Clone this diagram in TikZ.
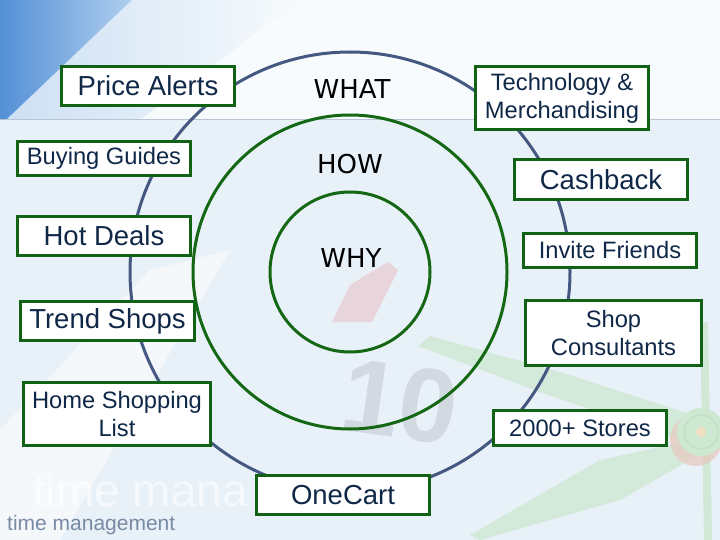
\documentclass[tikz,border=0pt]{standalone}
\usepackage{fontspec}
\setmainfont{Liberation Sans}
\newfontfamily\whatfont{DejaVu Sans}
\usetikzlibrary{shadings}
\definecolor{boxgreen}{RGB}{18,98,22}
\definecolor{txtnavy}{RGB}{16,40,72}
\definecolor{ringblue}{RGB}{68,88,130}
\definecolor{ringgreen}{RGB}{20,104,20}
\definecolor{bgblue}{RGB}{232,240,248}
\definecolor{bgtop}{RGB}{248,251,253}
\definecolor{cornerblue}{RGB}{84,144,214}
\definecolor{cornerlight}{RGB}{176,206,238}
\definecolor{handgreen}{RGB}{206,232,210}
\definecolor{tmgray}{RGB}{120,138,164}
\definecolor{digitgray}{RGB}{196,202,210}
\definecolor{seamgray}{RGB}{184,196,210}
\definecolor{hubpink}{RGB}{232,200,190}
\definecolor{hubring}{RGB}{190,222,196}
\definecolor{hubcore}{RGB}{240,222,190}
\definecolor{facered}{RGB}{236,120,120}
\begin{document}
\begin{tikzpicture}[x=1bp,y=-1bp,
  box/.style={draw=boxgreen, line width=3.2bp, fill=white, inner sep=0pt,
    text=txtnavy, align=center},
  bigtxt/.style={font=\fontsize{27.5bp}{33bp}\selectfont},
  smalltxt/.style={font=\fontsize{23.7bp}{28bp}\selectfont},
  ring/.style={line width=3bp},
  whattxt/.style={font=\whatfont\fontsize{26bp}{30bp}\selectfont, text=black}]
\useasboundingbox (0,0) rectangle (720,540);
% ---------- background ----------
\fill[bgblue] (0,0) rectangle (720,540);
\fill[bgtop] (0,0) rectangle (720,120);
\shade[left color=cornerblue, right color=cornerlight] (0,0) -- (132,0) -- (6,120) -- (0,120) -- cycle;
\shade[left color=cornerlight, right color=bgtop, opacity=0.6] (132,0) -- (300,0) -- (140,120) -- (6,120) -- cycle;
\draw[seamgray, line width=1bp] (0,120) -- (720,120);
\fill[white, opacity=0.55] (0,430) -- (150,270) -- (230,250) -- (60,540) -- (0,540) -- cycle;
% clock face fragment
\fill[facered, opacity=0.22] (332,322) -- (350,285) -- (388,262) -- (398,270) -- (372,322) -- cycle;
% clock hands
\fill[handgreen, opacity=0.8] (702,418) -- (560,372) -- (430,336) -- (418,346) -- (540,392) -- (696,446) -- cycle;
\fill[handgreen, opacity=0.8] (694,440) -- (600,460) -- (470,535) -- (480,540) -- (620,500) -- (704,452) -- cycle;
\fill[handgreen, opacity=0.9] (700,322) -- (708,322) -- (712,540) -- (704,540) -- cycle;
\fill[hubpink, opacity=0.7] (696,440) circle[radius=26];
\fill[handgreen] (701,432) circle[radius=24];
\draw[hubring, line width=1bp] (701,432) circle[radius=17];
\fill[hubcore] (701,432) circle[radius=5];
% faint clock digits
\node[text=digitgray, opacity=0.6, rotate=-8, inner sep=0pt,
  font=\bfseries\fontsize{105bp}{105bp}\selectfont] (digits) at (400,402) {10};
% faint large title
\node[anchor=base west, text=white, opacity=0.6, inner sep=0pt,
  font=\fontsize{46bp}{50bp}\selectfont] (bigtitle) at (33,506) {time mana};
\node[anchor=base west, text=tmgray, inner sep=0pt,
  font=\fontsize{21bp}{24bp}\selectfont] (title) at (7,530) {time management};
% ---------- rings ----------
\coordinate (c) at (350,272);
\draw[ringblue, ring] (c) circle[radius=220];
\draw[ringgreen, ring] (c) circle[radius=157];
\draw[ringgreen, ring] (c) circle[radius=80];
\node[whattxt] (what) at (352,89) {WHAT};
\node[whattxt] (how) at (350,164) {HOW};
\node[whattxt] (why) at (351,258) {WHY};
% ---------- boxes ----------
\node[box, bigtxt, minimum width=173, minimum height=39] (price) at (148,86) {Price Alerts};
\node[box, smalltxt, minimum width=173, minimum height=34] (buying) at (104,158.5) {Buying Guides};
\node[box, bigtxt, minimum width=173, minimum height=39] (hot) at (104,236) {Hot Deals};
\node[box, bigtxt, minimum width=174, minimum height=39] (trend) at (107.5,321) {Trend Shops};
\node[box, smalltxt, minimum width=187, minimum height=63] (home) at (117,414) {Home Shopping\\List};
\node[box, bigtxt, minimum width=173, minimum height=39] (onecart) at (343,495) {OneCart};
\node[box, smalltxt, minimum width=173, minimum height=63] (tech) at (562,98) {Technology \&\\Merchandising};
\node[box, bigtxt, minimum width=173, minimum height=40] (cash) at (601,179.5) {Cashback};
\node[box, smalltxt, minimum width=173, minimum height=34] (invite) at (610,250.5) {Invite Friends};
\node[box, smalltxt, minimum width=176, minimum height=65] (shop) at (613.5,333) {Shop\\Consultants};
\node[box, smalltxt, minimum width=173, minimum height=35] (stores) at (580,428) {2000+ Stores};
\end{tikzpicture}
\end{document}
